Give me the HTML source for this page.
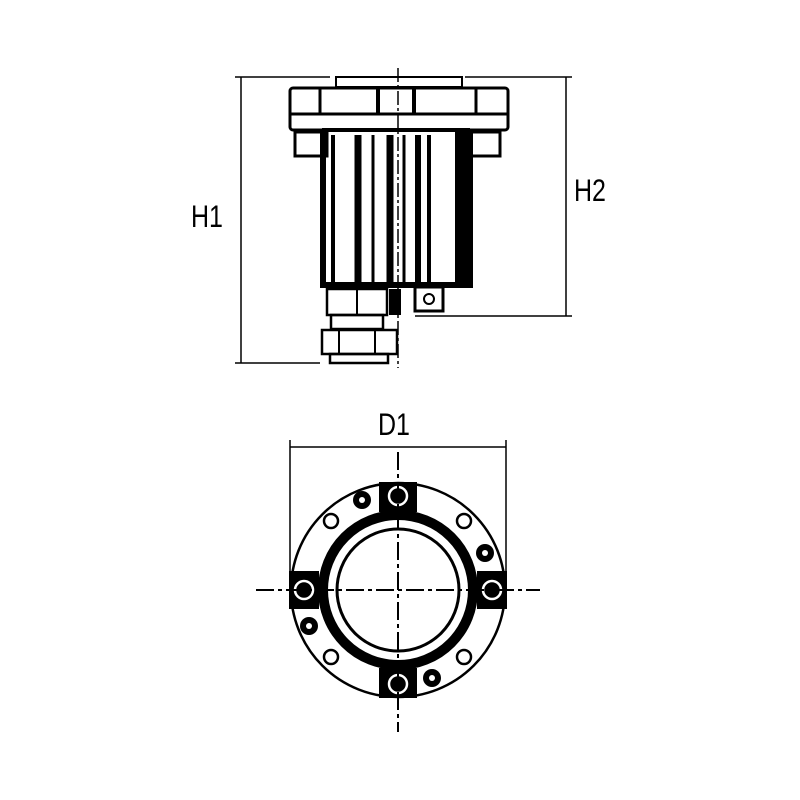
<!DOCTYPE html>
<html><head><style>
html,body{margin:0;padding:0;background:#fff;}
svg{display:block}
text{font-family:"Liberation Sans",Arial,sans-serif;font-size:25px;fill:#000}
</style></head><body>
<svg width="800" height="800" viewBox="0 0 800 800" xmlns="http://www.w3.org/2000/svg">
<g stroke="#000" fill="none">
<line x1="235" y1="77" x2="330" y2="77" stroke-width="1.5"/>
<line x1="235" y1="363" x2="320" y2="363" stroke-width="1.5"/>
<line x1="241" y1="77" x2="241" y2="363" stroke-width="1.5"/>
<line x1="465" y1="77" x2="572" y2="77" stroke-width="1.5"/>
<line x1="415" y1="316" x2="572" y2="316" stroke-width="1.5"/>
<line x1="566" y1="77" x2="566" y2="316" stroke-width="1.5"/>
<rect x="336" y="77" width="126" height="10" stroke-width="2"/>
<rect x="290" y="88" width="218" height="42" stroke-width="3" rx="3"/>
<line x1="290" y1="114" x2="508" y2="114" stroke-width="3"/>
<line x1="320" y1="88" x2="320" y2="114" stroke-width="3"/>
<line x1="378" y1="88" x2="378" y2="114" stroke-width="4"/>
<line x1="414" y1="88" x2="414" y2="114" stroke-width="4"/>
<line x1="476" y1="88" x2="476" y2="114" stroke-width="3"/>
<rect x="295" y="132" width="32" height="24" stroke-width="3"/>
<rect x="470" y="132" width="30" height="24" stroke-width="3"/>
<path d="M323 132 L323 285 L470 285 L470 132" stroke-width="6"/>
<rect x="455" y="132" width="17" height="152" fill="#000" stroke="none"/>
<line x1="322" y1="130" x2="470" y2="130" stroke-width="4"/>
<line x1="333" y1="135" x2="333" y2="285" stroke-width="4"/>
<line x1="358" y1="135" x2="358" y2="285" stroke-width="7"/>
<line x1="373" y1="135" x2="373" y2="285" stroke-width="3"/>
<line x1="390" y1="135" x2="390" y2="285" stroke-width="7"/>
<line x1="404" y1="135" x2="404" y2="285" stroke-width="3"/>
<line x1="418" y1="135" x2="418" y2="285" stroke-width="6"/>
<line x1="429" y1="135" x2="429" y2="285" stroke-width="4"/>
<rect x="327" y="289" width="60" height="26" stroke-width="2.5"/>
<line x1="357" y1="289" x2="357" y2="315" stroke-width="2"/>
<rect x="331" y="315" width="52" height="14" stroke-width="2.5"/>
<rect x="322" y="330" width="75" height="24" stroke-width="2.5"/>
<line x1="339" y1="330" x2="339" y2="354" stroke-width="2"/>
<line x1="375" y1="330" x2="375" y2="354" stroke-width="2"/>
<rect x="330" y="354" width="58" height="9" stroke-width="2.5"/>
<rect x="389" y="289" width="12" height="26" fill="#000" stroke="none"/>
<rect x="415" y="287" width="28" height="24" stroke-width="3"/>
<circle cx="429" cy="299" r="5" stroke-width="2"/>
<line x1="398" y1="68" x2="398" y2="368" stroke-width="1.5" stroke-dasharray="14 3 3 3"/>
<text stroke="none" transform="translate(191,227) scale(1,1.25)">H1</text>
<text stroke="none" transform="translate(574,201) scale(1,1.25)">H2</text>
<text stroke="none" transform="translate(378,435) scale(1,1.25)">D1</text>
<line x1="290" y1="447" x2="506" y2="447" stroke-width="1.5"/>
<line x1="290" y1="440" x2="290" y2="590" stroke-width="1.5"/>
<line x1="506" y1="440" x2="506" y2="590" stroke-width="1.5"/>
<circle cx="398" cy="590" r="107" stroke-width="2.5"/>
<circle cx="398" cy="590" r="75" stroke-width="10"/>
<circle cx="398" cy="590" r="61" stroke-width="3"/>
<rect x="379" y="482" width="38" height="30" fill="#000" stroke="none"/>
<rect x="379" y="668" width="38" height="30" fill="#000" stroke="none"/>
<rect x="289" y="571" width="30" height="38" fill="#000" stroke="none"/>
<rect x="477" y="571" width="30" height="38" fill="#000" stroke="none"/>
<g stroke="#fff" stroke-width="2.5">
<circle cx="398" cy="496" r="9"/><circle cx="398" cy="684" r="9"/>
<circle cx="304" cy="590" r="9"/><circle cx="492" cy="590" r="9"/>
</g>
<g fill="#000" stroke="none">
<circle cx="362" cy="500" r="9"/><circle cx="485" cy="553" r="9"/>
<circle cx="309" cy="626" r="9"/><circle cx="432" cy="678" r="9"/>
</g>
<g fill="#fff" stroke="none">
<circle cx="362" cy="500" r="3"/><circle cx="485" cy="553" r="3"/>
<circle cx="309" cy="626" r="3"/><circle cx="432" cy="678" r="3"/>
</g>
<g stroke-width="2.5">
<circle cx="331" cy="521" r="7"/><circle cx="464" cy="521" r="7"/>
<circle cx="331" cy="657" r="7"/><circle cx="464" cy="657" r="7"/>
</g>
<line x1="398" y1="452" x2="398" y2="732" stroke-width="2" stroke-dasharray="18 4 4 4"/>
<line x1="256" y1="590" x2="540" y2="590" stroke-width="2" stroke-dasharray="18 4 4 4"/>
</g>
</svg>
</body></html>
